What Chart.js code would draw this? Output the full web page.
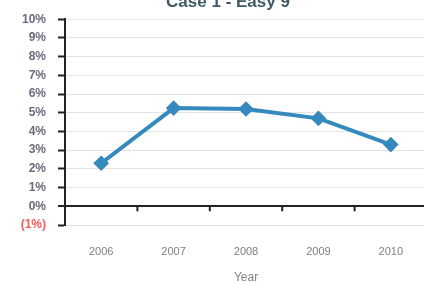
<!DOCTYPE html>
<html>
<head>
<meta charset="utf-8">
<script src="https://cdn.jsdelivr.net/npm/chart.js@4"></script>
<style>
  html, body { margin:0; padding:0; background:#fff; }
  #wrap { width:424px; height:285px; position:relative; overflow:hidden; }
</style>
</head>
<body>
<div id="wrap"><canvas id="grafico" width="436" height="285"></canvas></div>
<script>
const years = ["2006", "2007", "2008", "2009", "2010"];
const rates = [2.3, 5.25, 5.2, 4.7, 3.3];
const yTicks = [-1, 0, 1, 2, 3, 4, 5, 6, 7, 8, 9, 10];
const chartTitle = "Case 1 - Easy 9";
const xTitle = "Year";

const fmtPct = v => v < 0 ? "(" + Math.abs(v) + "%)" : v + "%";

// titulo cortado arriba y marcas sobre la linea del cero
const extras = {
  id: "extras",
  afterDraw(c) {
    const ctx = c.ctx, x = c.scales.x, y = c.scales.y;
    ctx.save();
    ctx.fillStyle = "#3d5a63";
    ctx.font = "bold 17px 'Liberation Sans', Arial, sans-serif";
    ctx.textAlign = "center";
    ctx.textBaseline = "alphabetic";
    ctx.fillText(chartTitle, 228, 7);
    const y0 = y.getPixelForValue(0);
    ctx.strokeStyle = "#222";
    ctx.lineWidth = 2;
    for (let i = 0; i < years.length - 1; i++) {
      const px = (x.getPixelForTick(i) + x.getPixelForTick(i + 1)) / 2;
      ctx.beginPath();
      ctx.moveTo(px, y0);
      ctx.lineTo(px, y0 + 5);
      ctx.stroke();
    }
    ctx.restore();
  }
};

new Chart(document.getElementById("grafico").getContext("2d"), {
  type: "line",
  data: {
    labels: years,
    datasets: [{
      data: rates,
      borderColor: "#3689bd",
      backgroundColor: "#3689bd",
      borderWidth: 4,
      pointStyle: "rectRot",
      pointRadius: 5,
      tension: 0
    }]
  },
  options: {
    responsive: false,
    animation: false,
    layout: { padding: { top: 18, right: 0, left: 0, bottom: 0 } },
    plugins: { legend: { display: false }, tooltip: { enabled: false } },
    scales: {
      x: {
        offset: true,
        grid: { display: false },
        border: { display: false },
        ticks: { color: "#808080", font: { size: 11, family: "'Liberation Sans', Arial" }, padding: 12, maxRotation: 0 },
        title: { display: true, text: xTitle, color: "#808080", font: { size: 12, family: "'Liberation Sans', Arial" }, padding: { top: 8, bottom: 0 } },
        afterFit: s => { s.height = 60; }
      },
      y: {
        min: -1, max: 10,
        afterBuildTicks: s => { s.ticks = yTicks.map(v => ({ value: v })); },
        grid: {
          color: ctx => ctx.tick && ctx.tick.value === 0 ? "#222" : "#e3e3e3",
          lineWidth: ctx => ctx.tick && ctx.tick.value === 0 ? 2 : 1,
          tickColor: "#222",
          tickLength: 7,
          tickWidth: 2
        },
        border: { color: "#222", width: 2 },
        ticks: {
          callback: v => fmtPct(v),
          color: ctx => ctx.tick.value < 0 ? "#f06060" : "#6a6a7c",
          font: { size: 12, weight: "bold", family: "'Liberation Sans', Arial" },
          padding: 12
        },
        afterFit: s => { s.width = 65; }
      }
    }
  },
  plugins: [extras]
});
</script>
</body>
</html>
